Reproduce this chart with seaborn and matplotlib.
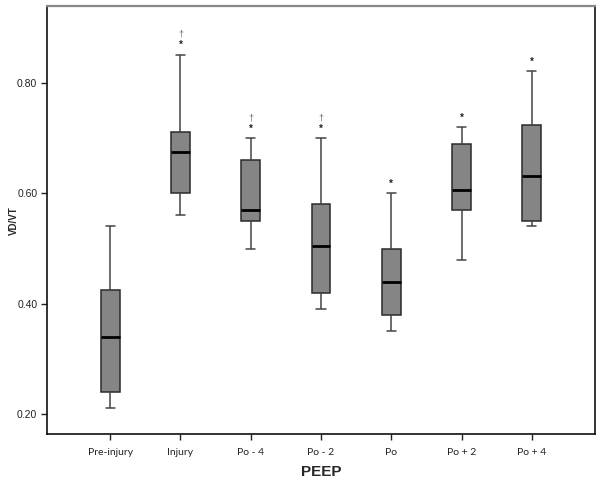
import numpy as np
import pandas as pd
import matplotlib
matplotlib.use("Agg")
import matplotlib.pyplot as plt
import seaborn as sns

categories = ["Pre-injury", "Injury", "Po - 4", "Po - 2", "Po", "Po + 2", "Po + 4"]
# five-number summaries: min, q1, median, q3, max
v_min = [0.21, 0.56, 0.50, 0.39, 0.35, 0.48, 0.54]
v_q1 = [0.24, 0.60, 0.55, 0.42, 0.38, 0.57, 0.55]
v_med = [0.34, 0.676, 0.57, 0.505, 0.44, 0.606, 0.631]
v_q3 = [0.425, 0.711, 0.66, 0.58, 0.50, 0.69, 0.725]
v_max = [0.54, 0.852, 0.70, 0.70, 0.60, 0.72, 0.822]
stars = ["", "*", "*", "*", "*", "*", "*"]
daggers = ["", "\u2020", "\u2020", "\u2020", "", "", ""]
y_ticks = [0.20, 0.40, 0.60, 0.80]

rows = []
for i, c in enumerate(categories):
    for v in (v_min[i], v_q1[i], v_med[i], v_q3[i], v_max[i]):
        rows.append({"PEEP": c, "VD/VT": v})
df = pd.DataFrame(rows)

sns.set_style("white")
plt.rcParams["font.family"] = ["Liberation Sans", "DejaVu Sans"]

fig = plt.figure(figsize=(6.02, 4.83), dpi=100)
ax = fig.add_axes([47 / 602, 1 - 434.3 / 483, (595 - 47) / 602, (434.3 - 6) / 483])

sns.boxplot(
    data=df, x="PEEP", y="VD/VT", order=categories, ax=ax,
    whis=np.inf, width=0.265, color="#858585", saturation=1,
    boxprops=dict(facecolor="#858585", edgecolor="#2a2a2a", linewidth=1.1),
    whiskerprops=dict(color="#444444", linewidth=1.1),
    capprops=dict(color="#444444", linewidth=1.1),
    medianprops=dict(color="black", linewidth=2.0),
    linecolor="#2a2a2a",
)

ax.set_xlim(-0.9, 6.9)
ax.set_ylim(0.163, 0.940)
ax.set_yticks(y_ticks)
ax.set_yticklabels([f"{t:.2f}" for t in y_ticks], fontsize=7.5, color="#222222")
ax.set_xticks(range(len(categories)))
ax.set_xticklabels(categories, fontsize=7.5, family=["Lato", "DejaVu Sans"], color="#222222")
ax.tick_params(axis="both", direction="out", length=4, width=1, color="#222222", pad=3, left=True, bottom=True)
ax.tick_params(axis="x", pad=6)

ax.set_xlabel("PEEP", fontsize=11, fontweight="bold")
ax.xaxis.set_label_coords(0.5, -(465 - 434.3) / 428.3)
ax.set_ylabel("VD/VT", fontsize=7, fontweight="bold")
ax.yaxis.set_label_coords((19 - 47) / 548, 0.5)

for side in ["left", "bottom", "right"]:
    ax.spines[side].set_color("#111111")
    ax.spines[side].set_linewidth(1.2)
ax.spines["top"].set_color("#888888")
ax.spines["top"].set_linewidth(1.6)

for i in range(len(categories)):
    if stars[i]:
        ax.annotate(stars[i], (i, v_max[i]), xytext=(0, 3), textcoords="offset points",
                    ha="center", va="bottom", fontsize=7, fontweight="bold", color="#222222")
    if daggers[i]:
        ax.annotate(daggers[i], (i, v_max[i]), xytext=(0, 11.5), textcoords="offset points",
                    ha="center", va="bottom", fontsize=6.5, color="#666666")

fig.savefig("out.png", dpi=100)
